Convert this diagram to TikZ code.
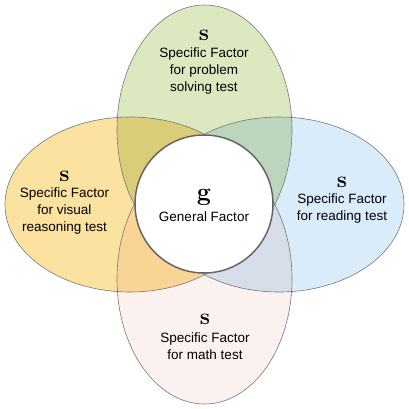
\documentclass[tikz,border=0pt]{standalone}
\usepackage{fontspec}
\newfontfamily\labelfont{Liberation Sans}
\definecolor{probfill}{RGB}{220,232,192}
\definecolor{visfill}{RGB}{252,226,160}
\definecolor{readfill}{RGB}{218,235,250}
\definecolor{mathfill}{RGB}{251,241,239}
\definecolor{rimgray}{RGB}{120,120,120}
\definecolor{coregray}{RGB}{102,102,102}
\tikzset{
  factor/.style={blend mode=multiply},
  rim/.style={draw=rimgray, line width=0.6pt},
  sfac/.style={inner sep=0pt, font=\bfseries\fontsize{23}{23}\selectfont},
  ftext/.style={inner sep=0pt, align=center, font=\labelfont\fontsize{13.5}{17.3}\selectfont}
}

\begin{document}
\begin{tikzpicture}[x=1pt, y=-1pt]
\useasboundingbox (0,0) rectangle (408,409);
\fill[white] (0,0) rectangle (408,409);
% the four specific factors
\fill[factor, probfill] (204.5,130) ellipse [x radius=87.5, y radius=125];
\fill[factor, visfill] (130,204.5) ellipse [x radius=125, y radius=87.5];
\fill[factor, readfill] (279,204.5) ellipse [x radius=125, y radius=87.5];
\fill[factor, mathfill] (204.5,279) ellipse [x radius=87.5, y radius=125];
\draw[rim] (204.5,130) ellipse [x radius=87.5, y radius=125];
\draw[rim] (130,204.5) ellipse [x radius=125, y radius=87.5];
\draw[rim] (279,204.5) ellipse [x radius=125, y radius=87.5];
\draw[rim] (204.5,279) ellipse [x radius=87.5, y radius=125];
% general factor
\node[circle, fill=white, draw=coregray, line width=1.5pt, minimum size=138pt] (gen) at (204,204) {};
\node[sfac, font=\fontsize{25}{25}\selectfont\bfseries] (gsym) at (204,197) {g};
\node[ftext] (gtext) at (204,217) {General Factor};

\node[sfac] (probs) at (204,35) {s};
\node[ftext] (probtext) at (204,71) {Specific Factor\\for problem\\solving test};
\node[sfac] (viss) at (64.5,176) {s};
\node[ftext] (vistext) at (64.5,211) {Specific Factor\\for visual\\reasoning test};
\node[sfac] (reads) at (342,182) {s};
\node[ftext] (readtext) at (342,208.5) {Specific Factor\\for reading test};
\node[sfac] (maths) at (205,319) {s};
\node[ftext] (mathtext) at (205,346.5) {Specific Factor\\for math test};
\end{tikzpicture}
\end{document}
